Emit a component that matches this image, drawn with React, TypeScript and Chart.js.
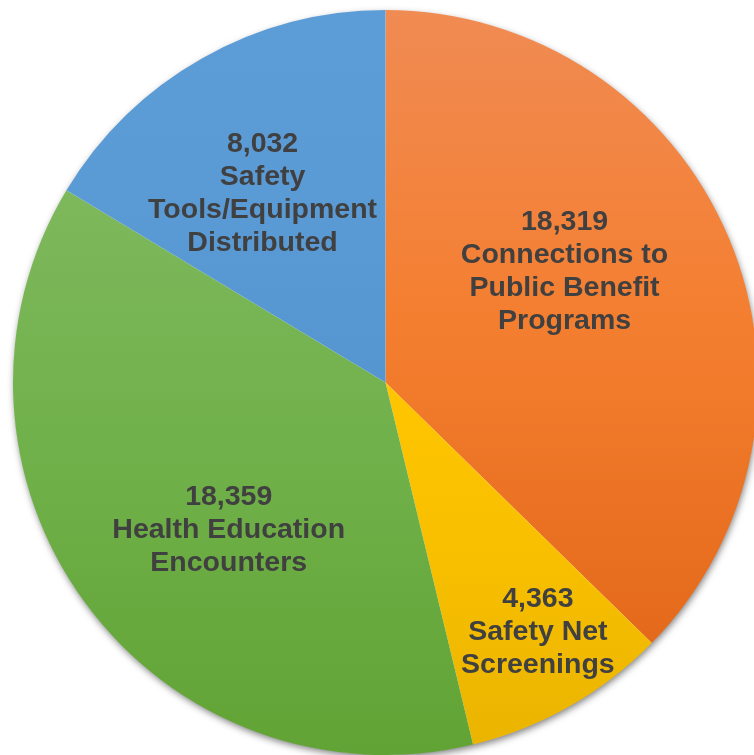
import React, { useEffect, useRef } from "react";
import { Chart, registerables } from "chart.js";

Chart.register(...registerables);

const categories = [
  ["Connections to", "Public Benefit", "Programs"],
  ["Safety Net", "Screenings"],
  ["Health Education", "Encounters"],
  ["Safety", "Tools/Equipment", "Distributed"],
];
const values = [18319, 4363, 18359, 8032];
const valueLabels = ["18,319", "4,363", "18,359", "8,032"];
const topColors = ["#F08B53", "#FFC500", "#7EB85C", "#5C9CD7"];
const midColors = ["#F47E2F", "#F8BF00", "#6FB049", "#5A9AD5"];
const bottomColors = ["#E4691B", "#EAB400", "#61A334", "#5595D0"];
// label placement: fraction of radius and angle offset (degrees) from slice middle
const labelFrac = [0.565, 0.785, 0.578, 0.605];
const labelAngleOffset = [-8.9, -1.8, -7.0, -3.6];

function sliceYRange(el: any) {
  const ys = [el.y, el.y + Math.sin(el.startAngle) * el.outerRadius, el.y + Math.sin(el.endAngle) * el.outerRadius];
  const tau = Math.PI * 2;
  for (const a of [Math.PI / 2, -Math.PI / 2, (3 * Math.PI) / 2]) {
    let s = el.startAngle, e = el.endAngle;
    let aa = a;
    while (aa < s) aa += tau;
    if (aa <= e) ys.push(el.y + Math.sin(a) * el.outerRadius);
  }
  return [Math.min(...ys), Math.max(...ys)];
}

const labelPlugin = {
  id: "pieLabels",
  beforeDatasetsDraw(chart: any) {
    const meta = chart.getDatasetMeta(0);
    const arc = meta.data[0];
    if (!arc) return;
    const ctx = chart.ctx;
    ctx.save();
    ctx.shadowColor = "rgba(0,0,0,0.5)";
    ctx.shadowBlur = 7;
    ctx.shadowOffsetX = 1;
    ctx.shadowOffsetY = 3;
    ctx.fillStyle = "#ffffff";
    ctx.beginPath();
    ctx.arc(arc.x, arc.y, arc.outerRadius - 0.5, 0, Math.PI * 2);
    ctx.fill();
    ctx.restore();
  },
  afterDatasetsDraw(chart: any) {
    const meta = chart.getDatasetMeta(0);
    const ctx = chart.ctx;
    ctx.save();
    ctx.font = 'bold 28.5px "Liberation Sans", Arial, sans-serif';
    ctx.fillStyle = "#404040";
    ctx.textAlign = "center";
    ctx.textBaseline = "middle";
    const lineH = 33;
    meta.data.forEach((el: any, i: number) => {
      const mid = (el.startAngle + el.endAngle) / 2 + (labelAngleOffset[i] * Math.PI) / 180;
      const r = el.outerRadius * labelFrac[i];
      const cx = el.x + Math.cos(mid) * r;
      const cy = el.y + Math.sin(mid) * r;
      const lines = [valueLabels[i], ...categories[i]];
      const y0 = cy - ((lines.length - 1) * lineH) / 2;
      lines.forEach((t, k) => ctx.fillText(t, cx, y0 + k * lineH));
    });
    ctx.restore();
  },
};

export default function App() {
  const ref = useRef<HTMLCanvasElement>(null);
  useEffect(() => {
    if (!ref.current) return;
    const chart = new Chart(ref.current, {
      type: "pie",
      data: {
        labels: categories.map((c) => c.join(" ")),
        datasets: [
          {
            data: values,
            backgroundColor: (c: any) => {
              const ch = c.chart;
              const i = c.dataIndex;
              const el = ch.getDatasetMeta(0).data[i];
              if (!ch.chartArea || !el || !el.outerRadius) return midColors[i];
              const [y0, y1] = sliceYRange(el);
              const g = ch.ctx.createLinearGradient(0, y0, 0, y1);
              g.addColorStop(0, topColors[i]);
              g.addColorStop(0.5, midColors[i]);
              g.addColorStop(1, bottomColors[i]);
              return g;
            },
            borderWidth: 0,
            hoverBorderWidth: 0,
            hoverOffset: 0,
            offset: 0,
          } as any,
        ],
      },
      options: {
        responsive: false,
        animation: false,
        maintainAspectRatio: false,
        layout: { padding: { left: 13, top: 10, right: 0, bottom: 0 } },
        plugins: {
          legend: { display: false },
          tooltip: { enabled: false },
        },
        events: [],
      },
      plugins: [labelPlugin],
    });
    chart.update();
    return () => chart.destroy();
  }, []);
  return (
    <div
      style={{
        position: "fixed",
        left: 0,
        top: 0,
        width: 754,
        height: 755,
        overflow: "hidden",
        background: "#ffffff",
      }}
    >
      <canvas ref={ref} width={758} height={755} style={{ width: 758, height: 755, display: "block" }} />
    </div>
  );
}
